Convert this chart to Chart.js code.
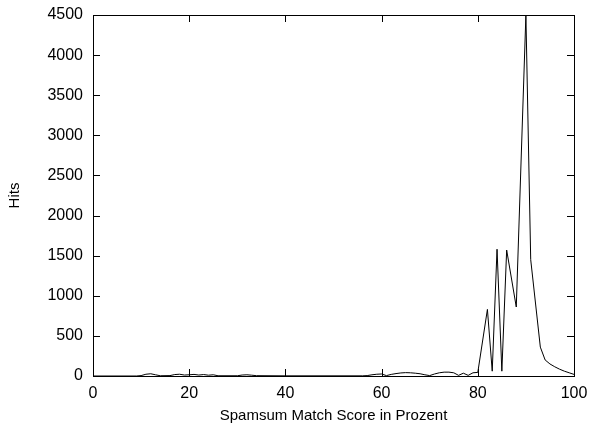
<!DOCTYPE html>
<html>
<head>
<meta charset="utf-8">
<script src="https://cdn.jsdelivr.net/npm/chart.js@4/dist/chart.umd.min.js"></script>
<style>
html,body{margin:0;padding:0;background:#fff;}
canvas{display:block;}
</style>
</head>
<body>
<canvas id="c" width="591" height="425"></canvas>
<script>
// Data
const scores = [0, 9, 10, 11, 12, 13, 14, 16, 17, 18, 19, 20, 21, 22, 23, 24, 25, 26, 30, 31, 32, 33, 34, 40, 56, 57, 58, 59, 60, 61, 62, 63, 64, 65, 66, 67, 68, 69, 70, 71, 72, 73, 74, 75, 76, 77, 78, 79, 80, 82, 83, 84, 85, 86, 88, 90, 91, 93, 94, 95, 96, 97, 98, 99, 100];
const hits   = [0, 0, 5, 22, 28, 15, 3, 5, 18, 22, 12, 15, 20, 12, 18, 10, 15, 3, 3, 12, 15, 10, 4, 2, 2, 5, 15, 22, 25, 5, 20, 30, 38, 42, 40, 35, 28, 15, 5, 25, 40, 48, 48, 40, 8, 35, 8, 40, 45, 830, 60, 1580, 60, 1570, 860, 4500, 1450, 360, 200, 150, 115, 85, 60, 40, 20];
const xTickValues = [0, 20, 40, 60, 80, 100];
const yTickValues = [0, 500, 1000, 1500, 2000, 2500, 3000, 3500, 4000, 4500];
const xTitle = 'Spamsum Match Score in Prozent';
const yTitle = 'Hits';

const points = scores.map((s, i) => ({x: s, y: hits[i]}));
const FONT = 'Liberation Sans, Arial, Helvetica, sans-serif';

const frameAndTicks = {
  id: 'frameAndTicks',
  afterDatasetsDraw(chart) {
    const {ctx, chartArea: a, scales} = chart;
    ctx.save();
    ctx.strokeStyle = '#000';
    ctx.lineWidth = 1;
    ctx.beginPath();
    const L = 7;
    scales.x.ticks.forEach(t => {
      const px = Math.round(scales.x.getPixelForValue(t.value)) + 0.5;
      ctx.moveTo(px, a.bottom); ctx.lineTo(px, a.bottom - L);
      ctx.moveTo(px, a.top); ctx.lineTo(px, a.top + L);
    });
    scales.y.ticks.forEach(t => {
      const py = Math.round(scales.y.getPixelForValue(t.value)) + 0.5;
      ctx.moveTo(a.left, py); ctx.lineTo(a.left + L, py);
      ctx.moveTo(a.right, py); ctx.lineTo(a.right - L, py);
    });
    ctx.stroke();
    ctx.strokeRect(Math.round(a.left) + 0.5, Math.round(a.top) + 0.5, Math.round(a.right - a.left), Math.round(a.bottom - a.top));
    ctx.restore();
  }
};

new Chart(document.getElementById('c'), {
  type: 'line',
  data: {
    datasets: [{
      data: points,
      borderColor: '#000',
      borderWidth: 1,
      pointRadius: 0,
      tension: 0,
      fill: false
    }]
  },
  options: {
    responsive: false,
    animation: false,
    devicePixelRatio: 1,
    layout: {padding: {top: 15, right: 17, left: 0, bottom: 0}},
    plugins: {legend: {display: false}, tooltip: {enabled: false}},
    scales: {
      x: {
        type: 'linear',
        min: 0, max: 100,
        afterBuildTicks(scale) { scale.ticks = xTickValues.map(v => ({value: v})); },
        afterFit(scale) { scale.height = 49; scale.paddingLeft = 0; scale.paddingRight = 0; },
        grid: {display: false, drawTicks: false},
        border: {display: false},
        ticks: {color: '#000', font: {family: FONT, size: 16}, padding: 8, maxRotation: 0,
                callback: v => String(v)},
        title: {display: true, text: xTitle, color: '#000', font: {family: FONT, size: 15}, padding: {top: 0, bottom: 0}}
      },
      y: {
        type: 'linear',
        min: 0, max: 4500,
        afterBuildTicks(scale) { scale.ticks = yTickValues.map(v => ({value: v})); },
        afterFit(scale) { scale.width = 93; scale.paddingTop = 0; scale.paddingBottom = 0; },
        grid: {display: false, drawTicks: false},
        border: {display: false},
        ticks: {color: '#000', font: {family: FONT, size: 16}, padding: 10,
                callback: v => String(v)},
        title: {display: true, text: yTitle, color: '#000', font: {family: FONT, size: 15}, padding: {top: 6, bottom: 0}}
      }
    }
  },
  plugins: [frameAndTicks]
});
</script>
</body>
</html>
